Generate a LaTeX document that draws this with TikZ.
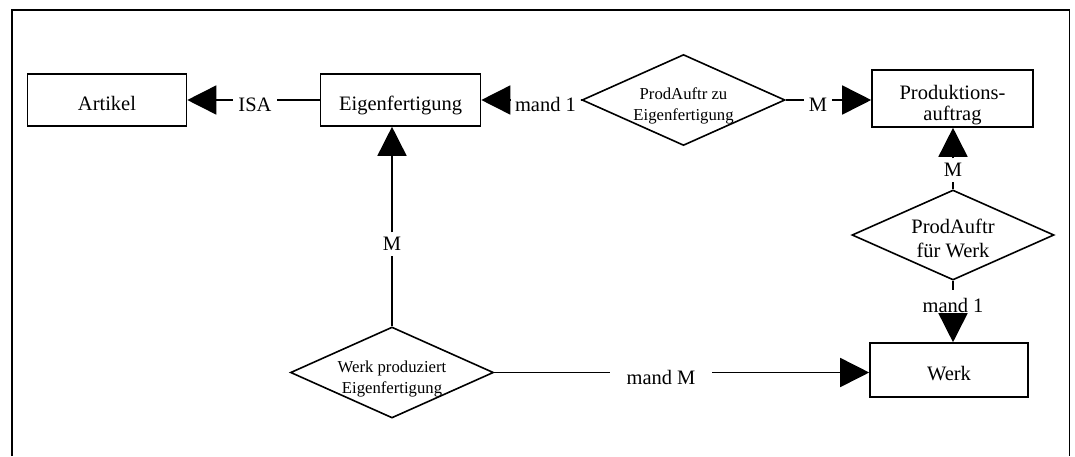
\documentclass[tikz,border=0pt]{standalone}
\usepackage{fontspec}
\setmainfont{Liberation Serif}
\usetikzlibrary{arrows.meta,shapes.geometric}
\begin{document}
\begin{tikzpicture}[x=1pt,y=-1pt,line width=1.6pt,
  bigfont/.style={font=\fontsize{20.5}{24}\selectfont},
  prodfont/.style={font=\fontsize{20.5}{21}\selectfont},
  smallfont/.style={font=\fontsize{16.7}{21}\selectfont},
  entity/.style={draw,rectangle,bigfont,inner sep=0pt,text height=24pt,text depth=4pt,
    minimum width=159pt,minimum height=52pt},
  relship/.style={draw,diamond,inner sep=0pt,minimum width=203pt,minimum height=91pt},
  nametext/.style={align=center,inner sep=0pt},
  hcard/.style={bigfont,text height=23pt,text depth=0pt,inner xsep=4pt,inner ysep=0pt},
  vcard/.style={bigfont,inner sep=4pt},
  arr/.style={-{Triangle[length=29pt,width=29pt]}},
]
\useasboundingbox (0,0) rectangle (1075,456);
% open frame around the diagram
\draw (12,456) -- (12,10) -- (1069.5,10) -- (1069.5,456);

% entities and relationships
\node[entity] (art) at (107,100) {Artikel};
\node[entity,minimum width=160pt] (eig) at (400.5,100) {Eigenfertigung};
\node[relship,label={[smallfont,nametext,yshift=-6pt]center:{ProdAuftr zu\\Eigenfertigung}}] (d1) at (683.5,100) {};
\node[entity,minimum width=161pt,minimum height=57pt,
  label={[prodfont,nametext,yshift=-6.75pt]center:{Produktions-\\auftrag}}] (prod) at (952.5,98.5) {};
\node[relship,minimum width=202pt,minimum height=90pt,
  label={[bigfont,nametext,yshift=-3pt]center:{ProdAuftr\\für Werk}}] (d2) at (953,235) {};
\node[entity,minimum width=158pt,minimum height=54pt] (werk) at (949,370) {Werk};
\node[relship,label={[smallfont,nametext,yshift=-6pt]center:{Werk produziert\\Eigenfertigung}}] (d3) at (392,372.5) {};

% ISA link
\node[hcard,inner xsep=5pt] (lisa) at (255,100) {ISA};
\draw[arr] (lisa) -- (art);
\draw (eig) -- (lisa);

% ProdAuftr zu Eigenfertigung
\node[hcard] (lm1) at (545.5,100) {mand 1};
\draw[arr] (lm1) -- (eig);
\draw (d1) -- (lm1);
\node[hcard] (lm2) at (818,100) {M};
\draw (d1) -- (lm2);
\draw[arr] (lm2) -- (lm2 -| prod.west);

% ProdAuftr fuer Werk
\node[vcard] (lm3) at (953,170) {M};
\draw (d2) -- (lm3);
\draw[arr] (lm3) -- (lm3 |- prod.south);
\node[bigfont,text height=22pt,text depth=0pt,inner sep=0pt] (lm4) at (953,301.5) {mand 1};
\draw (d2) -- (lm4);
\draw[arr] (lm4) -- (lm4 |- werk.north);

% Werk produziert Eigenfertigung
\node[vcard] (lm5) at (392,244) {M};
\draw (d3) -- (lm5);
\draw[arr] (lm5) -- (lm5 |- eig.south);
\node[hcard,inner xsep=16pt] (lm6) at (661,372.5) {mand M};
\draw (d3) -- (lm6);
\draw[arr] (lm6) -- (lm6 -| werk.west);
\end{tikzpicture}
\end{document}
